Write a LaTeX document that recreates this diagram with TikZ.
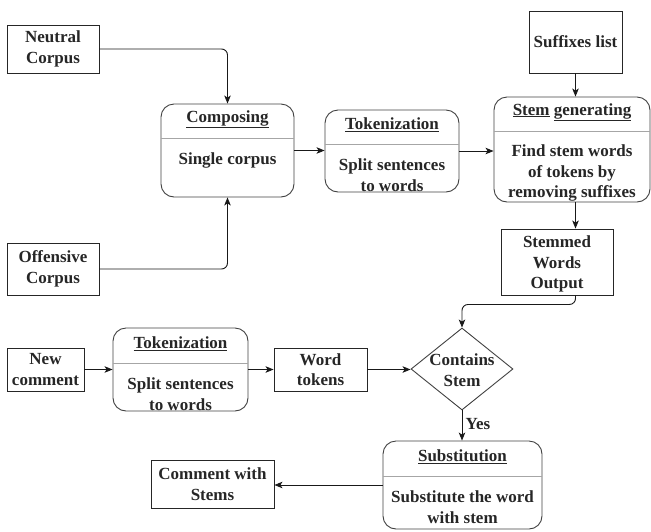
\documentclass[tikz,border=0pt]{standalone}
\usepackage{fontspec}
\setmainfont{Liberation Serif}
\usetikzlibrary{arrows.meta,shapes.geometric,calc}
\begin{document}
\begin{tikzpicture}[x=1pt,y=-1pt,
  every node/.style={font=\fontsize{17}{20.5}\selectfont\bfseries, text=black!85},
  plainbox/.style={draw=black!85, line width=0.9pt, rectangle, inner sep=0pt, align=center},
  roundbox/.style={draw=black!75, line width=0.9pt, rectangle, rounded corners=13pt, inner sep=0pt},
  divline/.style={draw=black!35, line width=0.7pt},
  txt/.style={inner sep=0pt, align=center},
  conn/.style={draw=black!90, line width=0.9pt, rounded corners=6pt, -{Stealth[length=8pt,width=6.5pt,inset=2pt]}},
  connplain/.style={draw=black!90, line width=0.9pt, rounded corners=6pt}
]
\useasboundingbox (0,0) rectangle (651,531);

% left inputs
\node[plainbox, minimum width=92, minimum height=48] (neutral) at (53,49) {Neutral\\Corpus};
\node[plainbox, minimum width=92, minimum height=52] (offensive) at (53,269) {Offensive\\Corpus};

% Composing
\node[roundbox, minimum width=133, minimum height=93] (comp) at (227.5,150.5) {};
\node[txt] (compT) at (227.5,119) {\underline{Composing}};
\node[txt] (compB) at (227.5,160) {Single corpus};
\draw[divline] ($(comp.north west)+(0,35)$) -- ($(comp.north east)+(0,35)$);

% Tokenization 1
\node[roundbox, minimum width=134, minimum height=82] (tok1) at (392,151) {};
\node[txt] (tok1T) at (392,125) {\underline{Tokenization}};
\node[txt] (tok1B) at (392,175) {Split sentences\\to words};
\draw[divline] ($(tok1.north west)+(0,35)$) -- ($(tok1.north east)+(0,35)$);

% Stem generating
\node[roundbox, minimum width=156, minimum height=105] (stem) at (572,149.5) {};
\node[txt] (stemT) at (572,112) {\underline{Stem} \underline{generating}};
\node[txt] (stemB) at (572,173) {Find stem words\\of tokens by\\removing suffixes};
\draw[divline] ($(stem.north west)+(0,35)$) -- ($(stem.north east)+(0,35)$);

% Suffixes list
\node[plainbox, minimum width=93, minimum height=62] (suffix) at (575.5,42) {Suffixes list};

% Stemmed words output
\node[plainbox, minimum width=112, minimum height=66] (stemmed) at (557,262) {};
\node[txt] (stemmedT) at (557,264) {Stemmed\\Words\\Output};

% second row
\node[plainbox, minimum width=77, minimum height=43] (newc) at (45.5,369.5) {New\\comment};

\node[roundbox, minimum width=135, minimum height=83] (tok2) at (180.5,369.5) {};
\node[txt] (tok2T) at (180.5,344) {\underline{Tokenization}};
\node[txt] (tok2B) at (180.5,394) {Split sentences\\to words};
\draw[divline] ($(tok2.north west)+(0,36)$) -- ($(tok2.north east)+(0,36)$);

\node[plainbox, minimum width=93, minimum height=43] (wordt) at (320.5,369.5) {Word\\tokens};

\node[draw=black!75, line width=0.9pt, diamond, inner sep=0pt, minimum width=102, minimum height=82] (dia) at (462,369) {};
\node[txt] (diaT) at (462,370) {Contains\\Stem};

% Substitution
\node[roundbox, minimum width=159, minimum height=88] (subst) at (462.5,485) {};
\node[txt] (substT) at (462.5,457) {\underline{Substitution}};
\node[txt] (substB) at (462.5,507) {Substitute the word\\with stem};
\draw[divline] ($(subst.north west)+(0,36)$) -- ($(subst.north east)+(0,36)$);

\node[plainbox, minimum width=123, minimum height=48] (commentw) at (212.5,484) {Comment with\\Stems};

\node[txt] (yes) at (478,424) {Yes};

% connectors
\draw[conn] (neutral.east) -| (comp.north);
\draw[conn] (offensive.east) -| (comp.south);
\draw[conn] (comp.east) -- (comp.east -| tok1.west);
\draw[conn] (tok1.east) -- (tok1.east -| stem.west);
\draw[conn] (suffix.south) -- (suffix.south |- stem.north);
\draw[conn] (suffix.south |- stem.south) -- (suffix.south |- stemmed.north);
\draw[conn] (suffix.south |- stemmed.south) -- ++(0,9) -| (dia.north);
\draw[conn] (newc.east) -- (newc.east -| tok2.west);
\draw[conn] (tok2.east) -- (tok2.east -| wordt.west);
\draw[conn] (wordt.east) -- (wordt.east -| dia.west);
\draw[conn] (dia.south) -- (dia.south |- subst.north);
\draw[conn] (subst.west) -- (subst.west -| commentw.east);
\end{tikzpicture}
\end{document}
